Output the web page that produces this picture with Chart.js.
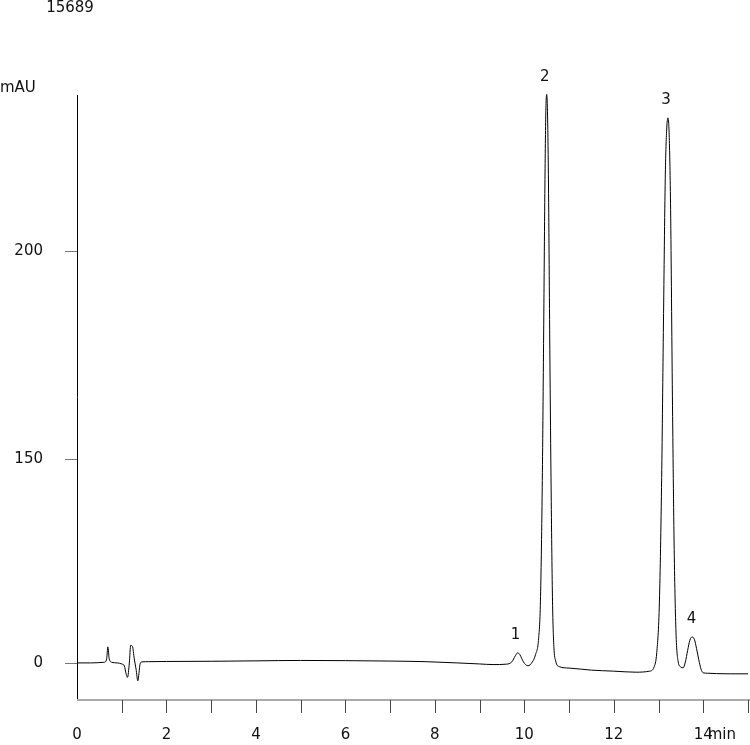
<!DOCTYPE html>
<html><head><meta charset="utf-8">
<script src="https://cdn.jsdelivr.net/npm/chart.js@4/dist/chart.umd.min.js"></script>
<style>html,body{margin:0;padding:0;background:#fff}#wrap{width:750px;height:745px}</style>
</head><body><div id="wrap"><canvas id="c"></canvas></div>
<script>
const sampleId = "15689";
const yUnit = "mAU";
const xUnit = "min";
const xTicks = [0,2,4,6,8,10,12,14];
// tick positions (signal units) and their printed labels
const yTickPos = [0, 99, 200];
const yTickLabels = ["0", "150", "200"];
const timeMin = [0.0,0.3,0.6,0.66,0.69,0.72,0.78,0.9,1.0,1.06,1.1,1.13,1.17,1.2,1.24,1.28,1.32,1.36,1.38,1.41,1.45,1.6,2.0,3.0,4.0,5.0,6.0,7.0,7.8,8.5,9.0,9.3,9.6,9.72,9.8,9.85,9.9,9.98,10.08,10.18,10.25,10.32,10.36,10.40,10.43,10.46,10.48,10.50,10.52,10.54,10.57,10.60,10.63,10.66,10.70,10.78,11.0,11.5,12.0,12.5,12.8,12.9,12.96,13.02,13.07,13.11,13.15,13.18,13.21,13.24,13.27,13.31,13.35,13.39,13.44,13.5,13.55,13.6,13.65,13.7,13.75,13.8,13.85,13.9,13.95,14.0,14.1,14.3,14.6,15.0];
const signal = [0.0,0.0,0.3,1.5,7.8,2.0,0.3,0.0,-0.5,-1.5,-5.5,-7.0,0.0,8.5,8.0,2.0,-3.0,-8.7,-6.0,-0.5,0.5,0.6,0.7,0.8,1.0,1.2,1.1,0.9,0.6,0.0,-0.5,-0.8,-0.6,0.5,3.5,4.9,4.0,0.5,-1.4,0.5,4.0,12.0,30.0,85.0,155.0,232.0,267.0,276.0,265.0,232.0,152.0,82.0,30.0,8.0,1.0,-1.8,-2.5,-3.5,-4.0,-4.5,-4.0,-2.0,5.0,30.0,90.0,165.0,235.0,258.0,264.6,255.0,220.0,130.0,55.0,15.0,0.5,-2.0,-2.4,0.5,6.0,11.0,12.6,11.5,7.0,1.5,-3.0,-4.8,-5.0,-5.2,-5.3,-5.3];
const peakNames = ["1","2","3","4"];
const peakTimes = [9.85,10.5,13.21,13.78];
const peakHeights = [4.9,276,264.6,12.6];

const F = '15px "DejaVu Sans", Verdana, sans-serif';
const deco = {
  id:'deco',
  afterDraw(ch){
    const c=ch.ctx, x=ch.scales.x, y=ch.scales.y, a=ch.chartArea;
    c.save();
    c.font=F; c.fillStyle='#111';
    c.textAlign='center'; c.textBaseline='top';
    c.fillText(sampleId,70,1);
    c.textAlign='left'; c.textBaseline='middle';
    c.fillText(yUnit,0,88);
    // y axis
    c.strokeStyle='#000'; c.lineWidth=1;
    c.beginPath(); c.moveTo(a.left+0.5,a.top); c.lineTo(a.left+0.5,a.bottom); c.stroke();
    c.strokeStyle='#777';
    yTickPos.forEach((v,i)=>{
      const py=Math.round(y.getPixelForValue(v))+0.5;
      c.beginPath(); c.moveTo(a.left-12,py); c.lineTo(a.left,py); c.stroke();
      c.textAlign='right'; c.fillText(yTickLabels[i],43,py);
    });
    // x axis
    c.strokeStyle='#aaa'; c.lineWidth=2;
    c.beginPath(); c.moveTo(a.left,a.bottom); c.lineTo(a.right+2,a.bottom); c.stroke();
    c.lineWidth=1; c.strokeStyle='#444';
    for(let t=1;t<=15;t++){
      const px=Math.round(x.getPixelForValue(t))+0.5;
      c.beginPath(); c.moveTo(px,a.bottom); c.lineTo(px,a.bottom+13); c.stroke();
    }
    c.textAlign='center'; c.textBaseline='top';
    xTicks.forEach(t=>c.fillText(String(t),x.getPixelForValue(t),a.bottom+28));
    c.textAlign='right'; c.fillText(xUnit,736,a.bottom+28);
    // peak labels
    c.textAlign='center'; c.textBaseline='bottom';
    peakNames.forEach((n,i)=>c.fillText(n,x.getPixelForValue(peakTimes[i])-2,y.getPixelForValue(peakHeights[i])-10));
    c.restore();
  }
};
new Chart(document.getElementById('c'),{
  type:'line',
  data:{datasets:[{data:timeMin.map((t,i)=>({x:t,y:signal[i]})),borderColor:'#000',borderWidth:1,pointRadius:0,cubicInterpolationMode:'monotone',fill:false,clip:false}]},
  options:{responsive:true,maintainAspectRatio:false,animation:false,devicePixelRatio:1,
    layout:{padding:{left:77,right:2,top:95,bottom:45}},
    plugins:{legend:{display:false},tooltip:{enabled:false}},
    scales:{x:{type:'linear',min:0,max:15,display:false},y:{type:'linear',min:-18,max:275.7,display:false}}},
  plugins:[deco]
});
</script></body></html>
